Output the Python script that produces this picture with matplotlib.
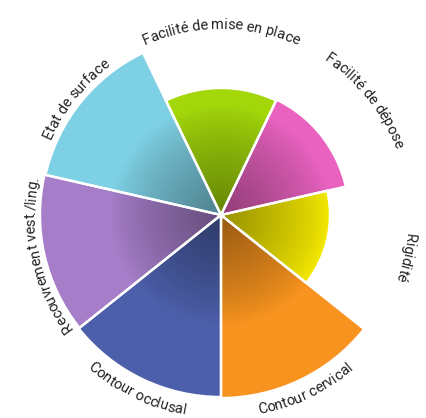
# -*- coding: utf-8 -*-
'''Diagramme en rose : critères de la restauration'''
import numpy as np
import matplotlib
matplotlib.use('Agg')
import matplotlib.pyplot as plt
from matplotlib.colors import LinearSegmentedColormap, to_rgb
from matplotlib.font_manager import FontProperties

#données (sens horaire depuis le haut)
criteres = ['Facilité de mise en place', 'Facilité de dépose', 'Rigidité',
            'Contour cervical', 'Contour occlusal', 'Recouvrement vest./ling.',
            'Etat de surface']
valeurs = [6.35, 6.4, 5.45, 9.15, 9.1, 9.05, 9.0]
couleurs = ['#a3d70a', '#e962c0', '#f6eb00', '#f7931e', '#4c5fab', '#a57dc8', '#7ed0e4']

W, H = 426, 418
cx, cy, R = 221, 215, 200   # centre et rayon (px)
rmax = 10.

fig = plt.figure(figsize=(W/100., H/100.), dpi=100)
ax = fig.add_axes([(cx-R)/W, (H-cy-R)/H, 2.*R/W, 2.*R/H], projection='polar')
ax.set_theta_zero_location('N')
ax.set_theta_direction(-1)
ax.axis('off')

n = len(criteres)
largeur = 2*np.pi/n
theta = np.arange(n)*largeur

#secteurs
ax.bar(theta, valeurs, width=largeur, color=couleurs, edgecolor='none', zorder=1)

#ombre radiale vers le centre
r0 = 5.5
for t, v, c in zip(theta, valeurs, couleurs):
    base = np.array(to_rgb(c))
    cmap = LinearSegmentedColormap.from_list('ombre', [base*0.62, base])
    tt = np.linspace(t - largeur/2, t + largeur/2, 40)
    rr = np.linspace(0, min(v, r0), 90)
    T, Rr = np.meshgrid(tt, rr)
    rc = 0.5*(rr[1:] + rr[:-1])
    C = 1 - np.clip(1 - rc/r0, 0, 1)**0.8
    C = np.repeat(C[:, None], len(tt)-1, axis=1)
    ax.pcolormesh(T, Rr, C, cmap=cmap, vmin=0, vmax=1, shading='flat',
                  edgecolor='none', antialiased=False, zorder=2)

#bords blancs
ax.bar(theta, valeurs, width=largeur, color='none', edgecolor='white',
       linewidth=1.7, zorder=3)
ax.set_thetalim(0, 2*np.pi)
ax.set_ylim(0, rmax)

#étiquettes courbes
fp = FontProperties(family='Roboto', size=10.5)
renderer = fig.canvas.get_renderer()
px = R/rmax

def largeur_txt(s):
    if not s:
        return 0.
    return renderer.get_text_width_height_descent(s, fp, ismath=False)[0]

for t, lab in zip(theta, criteres):
    phi0 = np.degrees(t)
    dedans = 120 < phi0 < 240
    rb = 10.15 if dedans else 9.3
    rarc = rb*px if dedans else rb*px + 4
    tot = largeur_txt(lab)
    for i, ch in enumerate(lab):
        s = 0.5*(largeur_txt(lab[:i]) + largeur_txt(lab[:i+1])) - tot/2.
        dphi = np.degrees(s/rarc)
        if dedans:
            phi = phi0 - dphi
            rot = 180 - phi
        else:
            phi = phi0 + dphi
            rot = -phi
        ax.text(np.radians(phi), rb, ch, fontproperties=fp, color='#222222',
                rotation=rot, rotation_mode='anchor', ha='center', va='baseline')

fig.savefig('out.png', dpi=100)
